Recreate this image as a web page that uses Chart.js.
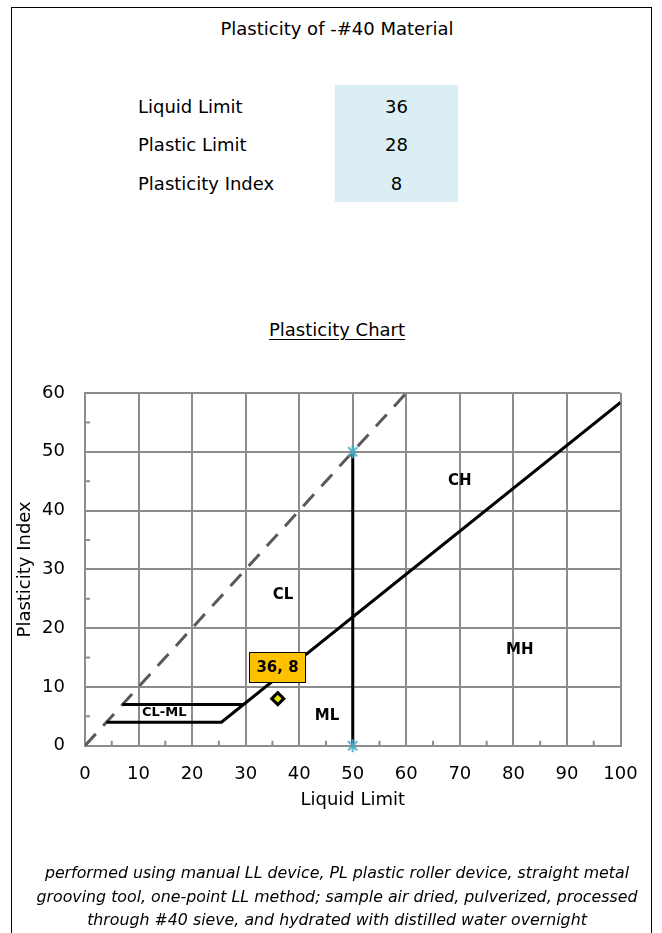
<!DOCTYPE html>
<html>
<head>
<meta charset="utf-8">
<title>Plasticity of -#40 Material</title>
<script src="https://cdn.jsdelivr.net/npm/chart.js@4/dist/chart.umd.min.js"></script>
<style>
  html, body { margin: 0; padding: 0; background: #fff; }
  body { width: 662px; height: 933px; position: relative; overflow: hidden;
         font-family: "DejaVu Sans", sans-serif; color: #000; }
  #frame { position: absolute; left: 11px; top: 7px; width: 641px; height: 960px;
           border: 1px solid #000; box-sizing: border-box; }
  #plot { position: absolute; left: 0; top: 0; }
  .txt { position: absolute; white-space: nowrap; font-size: 18px; line-height: 22px; }
  #title { left: 0; width: 674px; top: 18px; text-align: center; }
  #chartTitle { left: 0; width: 674px; top: 319px; text-align: center; }
  #chartTitle span { text-decoration: underline; text-underline-offset: 3px; }
  #cell { position: absolute; left: 335px; top: 85px; width: 123px; height: 117px; background: #DAEEF3; }
  .lbl { left: 138px; }
  .val { left: 335px; width: 123px; text-align: center; }
  #note { position: absolute; left: 0; width: 674px; top: 861px; text-align: center;
          font-style: italic; font-size: 15.8px; line-height: 23.5px; }
</style>
</head>
<body>
<div id="frame"></div>
<div id="cell"></div>
<div class="txt" id="title">Plasticity of -#40 Material</div>
<div id="table"></div>
<div class="txt" id="chartTitle"><span>Plasticity Chart</span></div>
<canvas id="plot" width="662" height="933"></canvas>
<div id="note">performed using manual LL device, PL plastic roller device, straight metal<br>grooving tool, one-point LL method; sample air dried, pulverized, processed<br>through #40 sieve, and hydrated with distilled water overnight</div>

<script>
// Atterberg limit results
const propertyNames = ['Liquid Limit', 'Plastic Limit', 'Plasticity Index'];
const propertyValues = [36, 28, 8];

// Sample point (LL, PI)
const sampleLL = [36];
const samplePI = [8];

// U-line (dashed)
const uLineLL = [0, 60];
const uLinePI = [0, 60];

// A-line with the lower CL-ML boundary at PI = 4
const aLineLL = [4, 25.48, 100];
const aLinePI = [4, 4, 58.4];

// Upper CL-ML boundary at PI = 7
const clmlLL = [7, 29.59];
const clmlPI = [7, 7];

// LL = 50 divide between low and high plasticity
const divideLL = [50, 50];
const dividePI = [0, 50];

// Zone names and where they sit on the chart (LL, PI)
const zoneNames = ['CL', 'CH', 'ML', 'MH', 'CL-ML'];
const zoneLL = [37, 70, 45.2, 81.2, 14.8];
const zonePI = [25.7, 45, 5, 16.3, 5.6];

// Axis ranges and tick steps
const llRange = [0, 100];
const piRange = [0, 60];
const majorStep = 10;
const minorStep = 5;

// ---- results table ----
const table = document.getElementById('table');
const rowTops = [96, 134, 173];
propertyNames.forEach((name, i) => {
  const l = document.createElement('div');
  l.className = 'txt lbl';
  l.style.top = rowTops[i] + 'px';
  l.textContent = name;
  table.appendChild(l);
  const v = document.createElement('div');
  v.className = 'txt val';
  v.style.top = rowTops[i] + 'px';
  v.textContent = propertyValues[i];
  table.appendChild(v);
});

// ---- chart ----
const FONT = 'DejaVu Sans';
Chart.defaults.font.family = FONT;
Chart.defaults.color = '#000';

const toPoints = (xs, ys) => xs.map((x, i) => ({ x: x, y: ys[i] }));

// asterisk marker used at the ends of the LL = 50 line
function makeStar(size, color) {
  const c = document.createElement('canvas');
  c.width = size; c.height = size;
  const g = c.getContext('2d');
  const m = size / 2, r = size / 2 - 1;
  g.strokeStyle = color; g.lineWidth = 2; g.lineCap = 'butt';
  g.beginPath();
  g.moveTo(m, m - r); g.lineTo(m, m + r);
  const d = r * Math.SQRT1_2;
  g.moveTo(m - d, m - d); g.lineTo(m + d, m + d);
  g.moveTo(m + d, m - d); g.lineTo(m - d, m + d);
  g.stroke();
  return c;
}
const starMarker = makeStar(15, '#4BACC6');

const GRID = '#8C8C8C';

// minor tick marks inside the plot, plus zone names and the value tag
const overlay = {
  id: 'overlay',
  afterDatasetsDraw(chart) {
    const { ctx, chartArea: a, scales: { x, y } } = chart;
    ctx.save();
    ctx.strokeStyle = GRID;
    ctx.lineWidth = 2;
    ctx.beginPath();
    for (let v = llRange[0] + minorStep; v < llRange[1]; v += majorStep) {
      const px = x.getPixelForValue(v);
      ctx.moveTo(px, a.bottom); ctx.lineTo(px, a.bottom - 5);
    }
    for (let v = piRange[0] + minorStep; v < piRange[1]; v += majorStep) {
      const py = y.getPixelForValue(v);
      ctx.moveTo(a.left, py); ctx.lineTo(a.left + 5, py);
    }
    ctx.stroke();

    ctx.fillStyle = '#000';
    ctx.textAlign = 'center';
    ctx.textBaseline = 'middle';
    zoneNames.forEach((n, i) => {
      ctx.font = 'bold ' + (n === 'CL-ML' ? 13 : 15) + 'px "' + FONT + '"';
      ctx.fillText(n, x.getPixelForValue(zoneLL[i]), y.getPixelForValue(zonePI[i]));
    });

    // value tag above the sample point
    const meta = chart.getDatasetMeta(0);
    const pt = meta.data[0];
    const tag = sampleLL[0] + ', ' + samplePI[0];
    ctx.font = 'bold 15px "' + FONT + '"';
    const w = Math.round(ctx.measureText(tag).width + 15);
    const h = 31;
    const bx = Math.round(pt.x - w / 2), by = Math.round(pt.y - 16 - h);
    ctx.fillStyle = '#FFC000';
    ctx.fillRect(bx, by, w, h);
    ctx.strokeStyle = '#000';
    ctx.lineWidth = 1;
    ctx.strokeRect(bx + 0.5, by + 0.5, w - 1, h - 1);
    ctx.fillStyle = '#000';
    ctx.fillText(tag, bx + w / 2, by + h / 2 + 1);
    ctx.restore();
  }
};

new Chart(document.getElementById('plot'), {
  type: 'scatter',
  data: {
    datasets: [
      {
        label: 'Sample',
        data: toPoints(sampleLL, samplePI),
        pointStyle: 'rectRot',
        pointRadius: 6,
        pointBackgroundColor: '#E6E600',
        pointBorderColor: '#000',
        pointBorderWidth: 3,
        showLine: false,
        order: 0
      },
      {
        label: 'LL = 50',
        data: toPoints(divideLL, dividePI),
        showLine: true,
        borderColor: '#000',
        borderWidth: 3,
        pointStyle: starMarker,
        pointRadius: 7,
        clip: false,
        order: 1
      },
      {
        label: 'A-line',
        data: toPoints(aLineLL, aLinePI),
        showLine: true,
        borderColor: '#000',
        borderWidth: 3,
        pointRadius: 0,
        order: 2
      },
      {
        label: 'CL-ML',
        data: toPoints(clmlLL, clmlPI),
        showLine: true,
        borderColor: '#000',
        borderWidth: 3,
        pointRadius: 0,
        order: 3
      },
      {
        label: 'U-line',
        data: toPoints(uLineLL, uLinePI),
        showLine: true,
        borderColor: '#595959',
        borderWidth: 3,
        borderDash: [16, 11],
        pointRadius: 0,
        order: 4
      }
    ]
  },
  options: {
    responsive: false,
    animation: false,
    events: [],
    layout: { padding: { left: 0, top: 393, right: 41.5, bottom: 117.3 } },
    plugins: { legend: { display: false }, tooltip: { enabled: false } },
    scales: {
      x: {
        type: 'linear',
        min: llRange[0], max: llRange[1],
        afterFit(s) { s.height = 70; },
        ticks: { stepSize: majorStep, padding: 18, font: { size: 18 }, color: '#000' },
        grid: { color: GRID, lineWidth: 2, drawTicks: false },
        border: { color: GRID, width: 2 },
        title: { display: true, text: 'Liquid Limit', font: { size: 18 }, color: '#000', padding: { top: 0, bottom: 5 } }
      },
      y: {
        type: 'linear',
        min: piRange[0], max: piRange[1],
        afterFit(s) { s.width = 85; },
        ticks: { stepSize: majorStep, padding: 20, font: { size: 18 }, color: '#000' },
        grid: { color: GRID, lineWidth: 2, drawTicks: false },
        border: { color: GRID, width: 2 },
        title: { display: true, text: 'Plasticity Index', font: { size: 18 }, color: '#000', padding: { top: 15, bottom: 0 } }
      }
    }
  },
  plugins: [overlay]
});
</script>
</body>
</html>
